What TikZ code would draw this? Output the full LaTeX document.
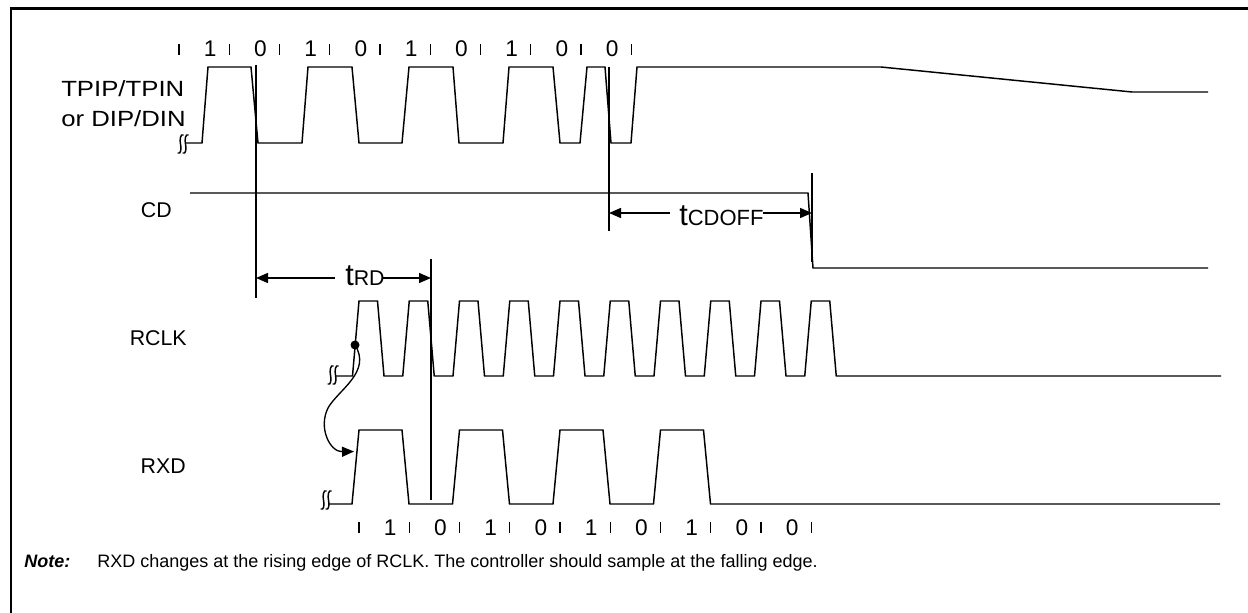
\documentclass[tikz,border=0pt]{standalone}
\usepackage{graphicx}
\usepackage{fontspec}
\setmainfont{Liberation Sans}
\usetikzlibrary{arrows.meta}
\begin{document}
\begin{tikzpicture}[x=0.75pt,y=-0.75pt,
  wave/.style={line width=1.1pt,line join=miter},
  marker/.style={line width=1.1pt},
  tick/.style={line width=0.8pt},
  lbl/.style={font=\fontsize{16}{19}\selectfont,inner sep=0pt,anchor=base west},
  lble/.style={font=\fontsize{16}{19}\selectfont,inner sep=0pt,anchor=base east},
  bit/.style={font=\fontsize{17}{20}\selectfont,inner sep=0pt},
  dim/.style={line width=1.1pt},
  tip/.style={-{Triangle[length=9pt,width=7.5pt]}},
  brk/.style={line width=1.1pt}]
\useasboundingbox (0,0) rectangle (1248,613);
% frame
\draw[line width=1.6pt] (11,613) -- (11,8.5) -- (1248,8.5);
% labels
\node[lbl,font=\fontsize{16.5}{19}\selectfont] (tp1) at (61,97) {\scalebox{1.17}[1]{TPIP/TPIN}};
\node[lbl,font=\fontsize{16.5}{19}\selectfont] (tp2) at (61,127) {\scalebox{1.17}[1]{or DIP/DIN}};
\node[lble] (cd) at (172,217) {CD};
\node[lble] (rclk) at (187,345) {RCLK};
\node[lble] (rxd) at (186,473) {RXD};
% top bits
\foreach \i in {0,...,9} \draw[tick] ({179+50.25*\i},44) -- ({179+50.25*\i},55);
\foreach \d [count=\i] in {1,0,1,0,1,0,1,0,0}
  \node[bit] (tb\i) at ({179+50.25*\i-19},49) {\d};
% bottom bits
\foreach \i in {0,...,9} \draw[tick] ({359+50.25*\i},522) -- ({359+50.25*\i},533);
\foreach \d [count=\i] in {1,0,1,0,1,0,1,0,0}
  \node[bit] (bb\i) at ({359+50.25*\i-19},528) {\d};
% break symbols
\foreach \bx/\by in {180/144, 330/375, 323/500}{
  \foreach \dx in {0,5}{
  \draw[brk] (\bx+\dx+3.5,\by-9) .. controls (\bx+\dx+0.5,\by-11) and (\bx+\dx-0.5,\by-4) .. (\bx+\dx+0.5,\by)
     .. controls (\bx+\dx+1.5,\by+4) and (\bx+\dx+1,\by+11) .. (\bx+\dx-2.5,\by+9);
  }
}
% TPIP/TPIN waveform
\draw[wave] (186,143) -- (202,143) -- (208,67) -- (251,67) -- (258,143) -- (302,143)
  -- (308,67) -- (352,67) -- (359,143) -- (402,143) -- (409,67) -- (453,67)
  -- (459,143) -- (503,143) -- (509,67) -- (553,67) -- (560,143) -- (580,143)
  -- (587,67) -- (605,67) -- (611,143) -- (631,143) -- (637,67) -- (881,67)
  -- (1132,92) -- (1208,92);
% CD waveform
\draw[wave] (190,193) -- (808,193) -- (813,268) -- (1208,268);
% RCLK waveform
\draw[wave] (336,376) foreach \k in {0,...,9} {
   -- ({352.5+50.25*\k},376) -- ({359+50.25*\k},301)
   -- ({377.5+50.25*\k},301) -- ({384+50.25*\k},376) } -- (1221,376);
% RXD waveform
\draw[wave] (329,504) foreach \k in {0,2,4,6} {
   -- ({352+50.25*\k},504) -- ({359+50.25*\k},430)
   -- ({402+50.25*\k},430) -- ({409+50.25*\k},504) } -- (1220,504);
% markers
\coordinate (m1t) at (256,65); \coordinate (m1b) at (256,298);
\coordinate (m2t) at (609,67); \coordinate (m2b) at (609,231);
\coordinate (m3t) at (812,173); \coordinate (m3b) at (812,262);
\coordinate (m4t) at (431,259); \coordinate (m4b) at (431,500);
\draw[marker] (m1t) -- (m1b);
\draw[marker] (m2t) -- (m2b);
\draw[marker] (m3t) -- (m3b);
\draw[marker] (m4t) -- (m4b);
% tRD
\node[inner sep=0pt,anchor=base west] (trd) at (345,285)
  {\fontsize{23}{26}\selectfont t\fontsize{16}{19}\selectfont RD};
\draw[dim,tip] (335,278) -- (256,278);
\draw[dim,tip] (383,278) -- (431,278);
% tCDOFF
\node[inner sep=0pt,anchor=base west] (tcd) at (679,225)
  {\fontsize{23}{26}\selectfont t\fontsize{16.5}{19}\selectfont CDOFF};
\draw[dim,tip] (670,213) -- (609,213);
\draw[dim,tip] (763,213) -- (812,213);
% sampling arrow
\coordinate (dot) at (355,345);
\coordinate (edge) at (354,451.5);
\fill (dot) circle (4.5);
\draw[line width=1pt,tip] (dot) .. controls (372,372) and (338,390) .. (328,408)
  .. controls (318,428) and (330,452) .. (edge);
% note
\node[inner sep=0pt,anchor=base west,font=\fontsize{13.5}{16}\selectfont\bfseries\itshape] (note) at (24,567) {Note:};
\node[inner sep=0pt,anchor=base west,font=\fontsize{13.5}{16}\selectfont] (notetxt) at (97,567)
  {RXD changes at the rising edge of RCLK. The controller should sample at the falling edge.};
\end{tikzpicture}
\end{document}
